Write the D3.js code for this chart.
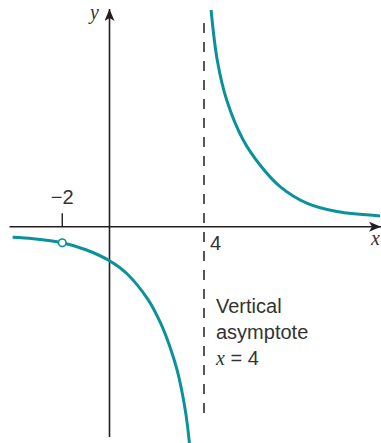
<!DOCTYPE html>
<html>
<head>
<meta charset="utf-8">
<script src="https://cdn.jsdelivr.net/npm/d3@7"></script>
<style>
  html, body { margin: 0; padding: 0; background: #fff; }
  svg { display: block; }
</style>
</head>
<body>
<svg id="chart" width="381" height="443"></svg>
<script>
// ---- data ----
const leftBranchX  = [-4.10, -3.23, -2.00, -0.97, 0.00, 0.73, 1.64, 2.14, 2.56, 2.86, 3.07, 3.24, 3.37, 3.39];
const leftBranchY  = [-0.44, -0.50, -0.67, -0.97, -1.42, -1.95, -3.05, -3.97, -5.01, -5.97, -6.89, -7.85, -8.89, -9.14];
const rightBranchX = [4.30, 4.56, 4.96, 5.66, 6.37, 7.22, 8.35, 9.62, 11.45];
const rightBranchY = [9.03, 6.95, 5.28, 3.61, 2.57, 1.67, 0.98, 0.63, 0.45];
const holeX = [-2];
const holeY = [-0.67];
const asymptoteX = [4];
const tickValues = [-2];
const tickLabels = ["\u22122"];
const asymptoteLabel = ["Vertical", "asymptote"];

// ---- scales ----
const W = 381, H = 443;
const x = d3.scaleLinear().domain([0, 4]).range([109.5, 204]);
const y = d3.scaleLinear().domain([0, 1]).range([226.7, 202.7]);

const svg = d3.select("#chart");
const ink = "#231f20";
const teal = "#0b9199";

// arrowhead marker
const defs = svg.append("defs");
defs.append("marker")
  .attr("id", "arrow")
  .attr("viewBox", "0 0 12 10")
  .attr("refX", 12).attr("refY", 5)
  .attr("markerWidth", 12).attr("markerHeight", 10)
  .attr("markerUnits", "userSpaceOnUse")
  .attr("orient", "auto")
  .append("path")
  .attr("d", "M0,0 L12,5 L0,10 L3,5 Z")
  .attr("fill", ink);

// axes
svg.append("line")
  .attr("x1", 9.5).attr("x2", 381)
  .attr("y1", y(0)).attr("y2", y(0))
  .attr("stroke", ink).attr("stroke-width", 1.6)
  .attr("marker-end", "url(#arrow)");
svg.append("line")
  .attr("x1", x(0)).attr("x2", x(0))
  .attr("y1", 437).attr("y2", 9)
  .attr("stroke", ink).attr("stroke-width", 1.6)
  .attr("marker-end", "url(#arrow)");

// ticks
svg.selectAll(".tick").data(tickValues).enter().append("line")
  .attr("x1", d => x(d)).attr("x2", d => x(d))
  .attr("y1", y(0) - 13.5).attr("y2", y(0))
  .attr("stroke", ink).attr("stroke-width", 1.4);
svg.selectAll(".ticklabel").data(tickValues).enter().append("text")
  .attr("x", d => x(d)).attr("y", 204)
  .attr("text-anchor", "middle")
  .attr("font-family", "Liberation Sans, Arial, sans-serif")
  .attr("font-size", 20).attr("fill", "#333")
  .text((d, i) => tickLabels[i]);

// asymptote
svg.selectAll(".asym").data(asymptoteX).enter().append("line")
  .attr("x1", d => x(d)).attr("x2", d => x(d))
  .attr("y1", 23).attr("y2", 415)
  .attr("stroke", ink).attr("stroke-width", 1.5)
  .attr("stroke-dasharray", "10,9");
svg.append("text")
  .attr("x", x(asymptoteX[0]) + 6).attr("y", 250)
  .attr("font-family", "Liberation Sans, Arial, sans-serif")
  .attr("font-size", 20).attr("fill", "#333")
  .text(String(asymptoteX[0]));

// asymptote annotation
const ann = svg.append("g")
  .attr("font-family", "Liberation Sans, Arial, sans-serif")
  .attr("font-size", 20).attr("fill", "#333");
asymptoteLabel.forEach((t, i) => {
  ann.append("text").attr("x", 216).attr("y", 313 + i * 26).text(t);
});
const eq = ann.append("text").attr("x", 216).attr("y", 365);
eq.append("tspan").attr("font-family", "Liberation Serif, Times New Roman, serif")
  .attr("font-style", "italic").text("x");
eq.append("tspan").text(" = " + asymptoteX[0]);

// axis labels
svg.append("text").attr("x", 90).attr("y", 19)
  .attr("font-family", "Liberation Serif, Times New Roman, serif")
  .attr("font-style", "italic").attr("font-size", 20).attr("fill", "#333")
  .text("y");
svg.append("text").attr("x", 371).attr("y", 245)
  .attr("font-family", "Liberation Serif, Times New Roman, serif")
  .attr("font-style", "italic").attr("font-size", 20).attr("fill", "#333")
  .text("x");

// curves
const line = d3.line()
  .x(d => x(d[0])).y(d => y(d[1]))
  .curve(d3.curveCatmullRom.alpha(0.5));
const left = leftBranchX.map((v, i) => [v, leftBranchY[i]]);
const right = rightBranchX.map((v, i) => [v, rightBranchY[i]]);
[left, right].forEach(pts => {
  svg.append("path").attr("d", line(pts))
    .attr("fill", "none").attr("stroke", teal)
    .attr("stroke-width", 3).attr("stroke-linecap", "butt");
});

// hole
svg.selectAll(".hole").data(holeX).enter().append("circle")
  .attr("cx", d => x(d)).attr("cy", (d, i) => y(holeY[i]))
  .attr("r", 3.8)
  .attr("fill", "#fff").attr("stroke", teal).attr("stroke-width", 1.6);
</script>
</body>
</html>
